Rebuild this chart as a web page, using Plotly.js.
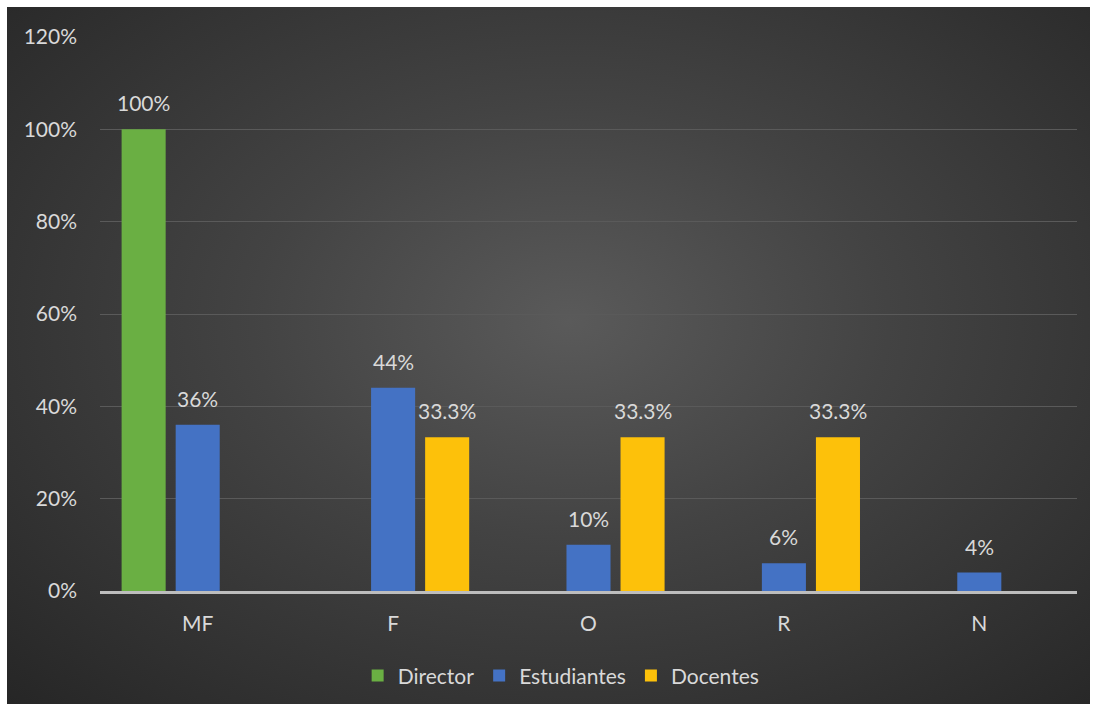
<!DOCTYPE html>
<html>
<head>
<meta charset="utf-8">
<script src="https://cdn.plot.ly/plotly-3.0.1.min.js"></script>
<style>
  html, body { margin: 0; padding: 0; background: #ffffff; }
  #bg { position: absolute; left: 7px; top: 7px; width: 1083px; height: 697px;
        background: radial-gradient(ellipse at 52% 45%, #5a5a5a 0%, #434343 40%, #262626 100%); }
  #chart { position: absolute; left: 0; top: 0; width: 1096px; height: 709px; }
</style>
</head>
<body>
<div id="bg"></div>
<div id="chart"></div>
<script>
const categories = ["MF", "F", "O", "R", "N"];
const director = [100, null, null, null, null];
const estudiantes = [36, 44, 10, 6, 4];
const docentes = [null, 33.3, 33.3, 33.3, null];
const seriesNames = ["Director", "Estudiantes", "Docentes"];
const yTicks = [0, 20, 40, 60, 80, 100, 120];

const labelColor = "#d9d9d9";
const fontFamily = "Lato, 'Open Sans', sans-serif";
const fontSize = 21;

const W = 1096, H = 709;
const margin = { l: 100, r: 19, t: 37, b: 118 };
const bargap = 0.17, bargroupgap = 0.185;

const series = [
  { name: seriesNames[0], values: director, color: "#6aaf43", decimals: 0 },
  { name: seriesNames[1], values: estudiantes, color: "#4472c4", decimals: 0 },
  { name: seriesNames[2], values: docentes, color: "#fdc10a", decimals: 1 }
];

const data = series.map(s => ({
  type: "bar",
  name: s.name,
  x: categories,
  y: s.values,
  marker: { color: s.color },
  hoverinfo: "x+y+name"
}));

// data labels placed above each bar, offset to the bar's slot within its group
const plotW = W - margin.l - margin.r;
const slotPx = plotW / categories.length * (1 - bargap) / series.length;
const annotations = [];
series.forEach((s, si) => {
  s.values.forEach((v, ci) => {
    if (v === null) return;
    annotations.push({
      x: categories[ci], y: v, xref: "x", yref: "y",
      text: v.toFixed(s.decimals) + "%",
      showarrow: false,
      xanchor: "center", yanchor: "bottom",
      xshift: (si - (series.length - 1) / 2) * slotPx,
      yshift: 12,
      font: { color: labelColor, size: fontSize, family: fontFamily }
    });
  });
});

const layout = {
  width: W,
  height: H,
  paper_bgcolor: "rgba(0,0,0,0)",
  plot_bgcolor: "rgba(0,0,0,0)",
  margin: margin,
  barmode: "group",
  bargap: bargap,
  bargroupgap: bargroupgap,
  font: { family: fontFamily, color: labelColor, size: fontSize },
  annotations: annotations,
  xaxis: {
    showgrid: false,
    showline: true,
    linecolor: "#bdbdbd",
    linewidth: 2.5,
    ticks: "",
    ticklabelstandoff: 12,
    tickfont: { size: fontSize, color: labelColor },
    zeroline: false
  },
  yaxis: {
    range: [0, 120],
    tickvals: yTicks,
    ticktext: yTicks.map(v => v + "%"),
    showgrid: true,
    gridcolor: "#5a5a5a",
    gridwidth: 1,
    zeroline: false,
    showline: false,
    ticks: "",
    ticklabelstandoff: 22,
    tickfont: { size: fontSize, color: labelColor }
  },
  legend: {
    orientation: "h",
    x: 0.472,
    xanchor: "center",
    y: -0.116,
    yanchor: "top",
    font: { size: fontSize, color: labelColor },
    bgcolor: "rgba(0,0,0,0)",
    itemwidth: 30,
    traceorder: "normal"
  },
  showlegend: true
};

Plotly.newPlot("chart", data, layout, { displayModeBar: false, staticPlot: true });
</script>
</body>
</html>
